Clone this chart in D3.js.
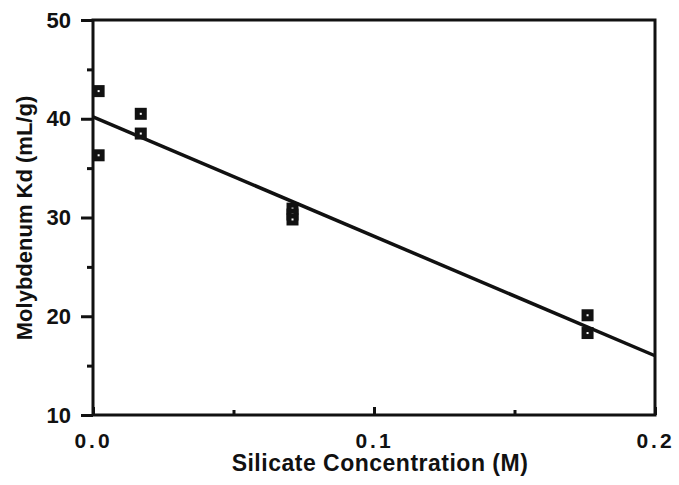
<!DOCTYPE html>
<html>
<head>
<meta charset="utf-8">
<script src="https://cdn.jsdelivr.net/npm/d3@7"></script>
<style>
  body { margin: 0; background: #fff; }
  text { font-family: "Liberation Sans", Arial, sans-serif; fill: #111; }
</style>
</head>
<body>
<div id="chart"></div>
<script>
// measured points
var silicate = [0.002, 0.002, 0.017, 0.017, 0.071, 0.071, 0.071, 0.176, 0.176];
var kd = [42.8, 36.3, 40.5, 38.5, 30.9, 30.3, 29.8, 20.1, 18.3];
// regression line
var fitX = [0, 0.2];
var fitY = [40.2, 16.0];
var xTicks = [0, 0.1, 0.2];
var xMinor = [0.05, 0.15];
var yTicks = [10, 20, 30, 40, 50];
var yMinor = [15, 25, 35, 45];

function draw() {
  var w = 679, h = 485;
  var margin = {top: 20, right: 24, bottom: 70, left: 93};

  var svg = d3.select("#chart").append("svg")
    .attr("width", w)
    .attr("height", h);

  var xScale = d3.scaleLinear().domain([0, 0.2]).range([margin.left, w - margin.right]);
  var yScale = d3.scaleLinear().domain([10, 50]).range([h - margin.bottom, margin.top]);

  var dataset = silicate.map(function (d, i) { return {x: d, y: kd[i]}; });
  var fit = fitX.map(function (d, i) { return {x: d, y: fitY[i]}; });

  // frame
  svg.append("rect")
    .attr("x", xScale(0))
    .attr("y", yScale(50))
    .attr("width", xScale(0.2) - xScale(0))
    .attr("height", yScale(10) - yScale(50))
    .attr("fill", "none")
    .attr("stroke", "#111")
    .attr("stroke-width", 3);

  // y axis
  var yAxis = svg.append("g")
    .attr("transform", "translate(" + xScale(0) + ",0)")
    .call(d3.axisLeft(yScale).tickValues(yTicks).tickSize(12).tickPadding(10).tickFormat(d3.format("d")));
  yAxis.select(".domain").remove();
  yAxis.selectAll("line").attr("stroke", "#111").attr("stroke-width", 3);
  yAxis.selectAll("text").attr("font-size", "22px").attr("font-weight", "bold").attr("fill", "#111");

  svg.append("g")
    .attr("transform", "translate(" + xScale(0) + ",0)")
    .call(d3.axisLeft(yScale).tickValues(yMinor).tickSize(6).tickFormat(""))
    .call(function (g) { g.select(".domain").remove(); })
    .selectAll("line").attr("stroke", "#111").attr("stroke-width", 3);

  // x axis (ticks point inward)
  var xAxis = svg.append("g")
    .attr("transform", "translate(0," + yScale(10) + ")")
    .call(d3.axisTop(xScale).tickValues(xTicks).tickSize(8).tickFormat(d3.format(".1f")));
  xAxis.select(".domain").remove();
  xAxis.selectAll("line").attr("stroke", "#111").attr("stroke-width", 3);
  xAxis.selectAll("text")
    .attr("y", 33)
    .attr("font-size", "21px")
    .attr("font-weight", "bold")
    .attr("letter-spacing", "3px")
    .attr("fill", "#111");

  svg.append("g")
    .attr("transform", "translate(0," + yScale(10) + ")")
    .call(d3.axisTop(xScale).tickValues(xMinor).tickSize(5).tickFormat(""))
    .call(function (g) { g.select(".domain").remove(); })
    .selectAll("line").attr("stroke", "#111").attr("stroke-width", 3);

  // fit line
  var line = d3.line()
    .x(function (d) { return xScale(d.x); })
    .y(function (d) { return yScale(d.y); });
  svg.append("path")
    .datum(fit)
    .attr("d", line)
    .attr("fill", "none")
    .attr("stroke", "#111")
    .attr("stroke-width", 3.5);

  // squares
  var pts = svg.selectAll("g.pt")
    .data(dataset)
    .enter()
    .append("g")
    .attr("class", "pt")
    .attr("transform", function (d) { return "translate(" + xScale(d.x) + "," + yScale(d.y) + ")"; });
  pts.append("rect")
    .attr("x", -6).attr("y", -6)
    .attr("width", 12).attr("height", 12)
    .attr("fill", "#111");
  pts.append("rect")
    .attr("x", -1).attr("y", -1)
    .attr("width", 2).attr("height", 2)
    .attr("fill", "#fff");

  // axis titles
  svg.append("text")
    .attr("x", 380)
    .attr("y", 471)
    .attr("text-anchor", "middle")
    .attr("font-size", "23px")
    .attr("font-weight", "bold")
    .attr("letter-spacing", "0.5px")
    .text("Silicate Concentration (M)");

  svg.append("text")
    .attr("transform", "translate(32,218) rotate(-90)")
    .attr("text-anchor", "middle")
    .attr("font-size", "22px")
    .attr("font-weight", "bold")
    .text("Molybdenum Kd (mL/g)");
}

window.onload = function () {
  draw();
};
</script>
</body>
</html>
